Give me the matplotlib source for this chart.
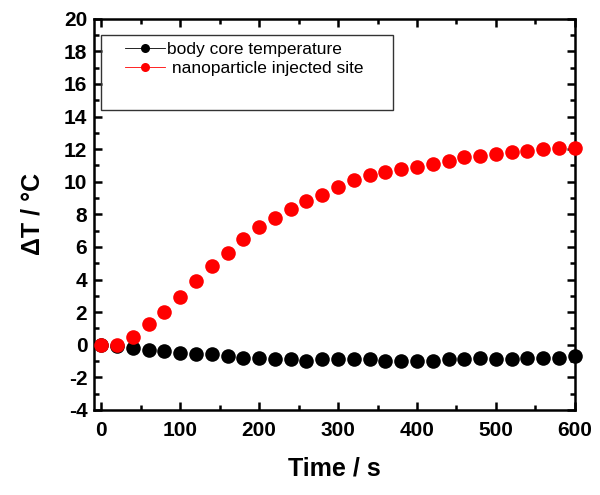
import matplotlib
matplotlib.use("Agg")
import matplotlib.pyplot as plt
from matplotlib.lines import Line2D
from matplotlib.patches import Rectangle
from matplotlib.ticker import MultipleLocator

plt.rcParams['font.family'] = ['Liberation Sans', 'DejaVu Sans']
plt.rcParams['axes.unicode_minus'] = False

# time points (s)
time_s = list(range(0, 601, 20))

# body core temperature change
core_dT = [0.0, -0.1, -0.2, -0.3, -0.4, -0.5, -0.6, -0.6, -0.7, -0.8, -0.8,
           -0.9, -0.9, -1.0, -0.9, -0.9, -0.9, -0.9, -1.0, -1.0, -1.0,
           -1.0, -0.9, -0.9, -0.8, -0.9, -0.9, -0.8, -0.8, -0.8, -0.7]

# nanoparticle injected site temperature change
site_dT = [0.0, 0.0, 0.5, 1.3, 2.0, 2.9, 3.9, 4.8, 5.6, 6.5, 7.2,
           7.8, 8.3, 8.8, 9.2, 9.7, 10.1, 10.4, 10.6, 10.8, 10.9,
           11.1, 11.3, 11.5, 11.6, 11.7, 11.8, 11.9, 12.0, 12.1, 12.1]

labels = ["body core temperature", " nanoparticle injected site"]

fig = plt.figure(figsize=(6.0, 4.95), dpi=100)
ax = fig.add_axes([0.157, 0.172, 0.801, 0.790])

ax.plot(time_s, core_dT, 'o', color='black', ms=10.5, mec='none', clip_on=False, zorder=3)
ax.plot(time_s, site_dT, 'o', color='red', ms=10.5, mec='none', clip_on=False, zorder=4)

ax.set_xlim(-9, 600)
ax.set_ylim(-4, 20)

ax.xaxis.set_major_locator(MultipleLocator(100))
ax.xaxis.set_minor_locator(MultipleLocator(50))
ax.yaxis.set_major_locator(MultipleLocator(2))
ax.yaxis.set_minor_locator(MultipleLocator(1))

ax.tick_params(which='both', direction='in', top=True, right=True, width=1.8)
ax.tick_params(which='major', length=6, labelsize=15)
ax.tick_params(axis='x', which='major', pad=8)
ax.tick_params(axis='y', which='major', pad=5)
ax.tick_params(which='minor', length=3.5)
for lab in ax.get_xticklabels() + ax.get_yticklabels():
    lab.set_fontweight('bold')
for sp in ax.spines.values():
    sp.set_linewidth(1.8)

ax.set_xlabel("Time / s", fontsize=18, fontweight='bold', labelpad=12)
ax.set_ylabel("ΔT / °C", fontsize=18, fontweight='bold', labelpad=14)

# legend frame drawn separately (box is larger than its entries)
ax.add_patch(Rectangle((0.0146, 0.767), 0.607, 0.192, transform=ax.transAxes,
                       fill=False, edgecolor='#333333', lw=1.0, zorder=5))

handles = [
    Line2D([], [], color='black', lw=0.6, marker='o', ms=6.5, mec='none'),
    Line2D([], [], color='red', lw=0.6, marker='o', ms=6.5, mec='none'),
]
leg = ax.legend(handles, labels, loc='upper left',
                bbox_to_anchor=(0.064, 0.942), borderaxespad=0, borderpad=0,
                frameon=False, fontsize=12.5, handlelength=2.3,
                handletextpad=0.1, labelspacing=0.25)

fig.savefig("out.png", dpi=100)
